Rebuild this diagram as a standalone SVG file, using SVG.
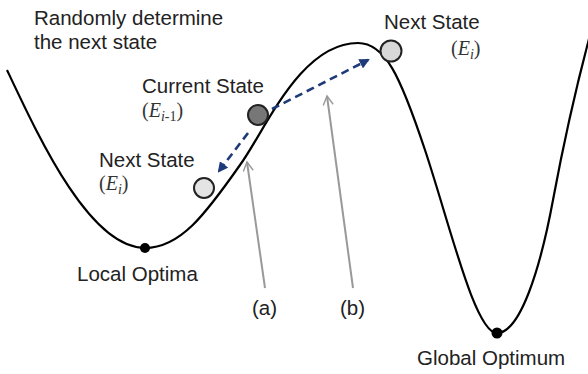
<svg xmlns="http://www.w3.org/2000/svg" width="588" height="374" viewBox="0 0 588 374">
<style>
.lbl{font-family:"Liberation Sans",Arial,sans-serif;font-size:20.5px;fill:#222}
.math{font-family:"Liberation Serif",serif;font-size:20px;fill:#333}
.curve{fill:none;stroke:#000;stroke-width:2.2}
.dash{fill:none;stroke:#1f3a78;stroke-width:2.6;stroke-dasharray:8 5}
.grey{fill:none;stroke:#999;stroke-width:2}
.ball{stroke:#222;stroke-width:2}
</style>
<defs>
<marker id="navy" viewBox="0 0 10 10" refX="8" refY="5" markerWidth="4" markerHeight="4" orient="auto" markerUnits="strokeWidth">
<path d="M0,0 L10,5 L0,10 z" fill="#1f3a78"/>
</marker>
<marker id="open" viewBox="0 0 12 12" refX="10" refY="6" markerWidth="6" markerHeight="6" orient="auto" markerUnits="strokeWidth">
<path d="M1,1 L10,6 L1,11" fill="none" stroke="#999" stroke-width="1.4"/>
</marker>
</defs>
<g id="landscape">
<path class="curve" d="M7 70 C40 140 90 248 145 248 C180 248 205 215 240 165 C265 131 300 43 358 43 C385 43 400 75 425 150 C450 225 475 333 497 333 C520 333 540 270 553 200 C566 130 578 80 590 35"/>
</g>
<g id="connectors">
<path class="dash" d="M248 133 L219 171" marker-end="url(#navy)"/>
<path class="dash" d="M272 109 L368 60" marker-end="url(#navy)"/>
<path class="grey" d="M265 288 L247 162" marker-end="url(#open)"/>
<path class="grey" d="M353 288 L327 96" marker-end="url(#open)"/>
</g>
<g id="local-optima">
<circle cx="145" cy="248" r="5" fill="#000"/>
<text class="lbl" x="77" y="281">Local Optima</text>
</g>
<g id="global-optimum">
<circle cx="497" cy="333" r="5.5" fill="#000"/>
<text class="lbl" x="417" y="365">Global Optimum</text>
</g>
<g id="current-state">
<circle class="ball" cx="258" cy="115" r="10" fill="#777"/>
<text class="lbl" x="142" y="93">Current State</text>
<text class="math" x="142" y="117">(<tspan font-style="italic">E</tspan><tspan font-style="italic" font-size="14" dy="4">i</tspan><tspan font-size="14">-1</tspan><tspan dy="-4">)</tspan></text>
</g>
<g id="next-state-left">
<circle class="ball" cx="204" cy="188" r="10" fill="#e4e4e4"/>
<text class="lbl" x="99" y="167">Next State</text>
<text class="math" x="99" y="190">(<tspan font-style="italic">E</tspan><tspan font-style="italic" font-size="14" dy="4">i</tspan><tspan dy="-4">)</tspan></text>
</g>
<g id="next-state-top">
<circle class="ball" cx="391" cy="51" r="10.5" fill="#d8d8d8"/>
<text class="lbl" x="384" y="29">Next State</text>
<text class="math" x="451" y="55">(<tspan font-style="italic">E</tspan><tspan font-style="italic" font-size="14" dy="4">i</tspan><tspan dy="-4">)</tspan></text>
</g>
<g id="title">
<text class="lbl" x="34" y="25">Randomly determine</text>
<text class="lbl" x="34" y="49">the next state</text>
</g>
<g id="label-a"><text class="lbl" x="252" y="315">(a)</text></g>
<g id="label-b"><text class="lbl" x="340" y="315">(b)</text></g>
</svg>
